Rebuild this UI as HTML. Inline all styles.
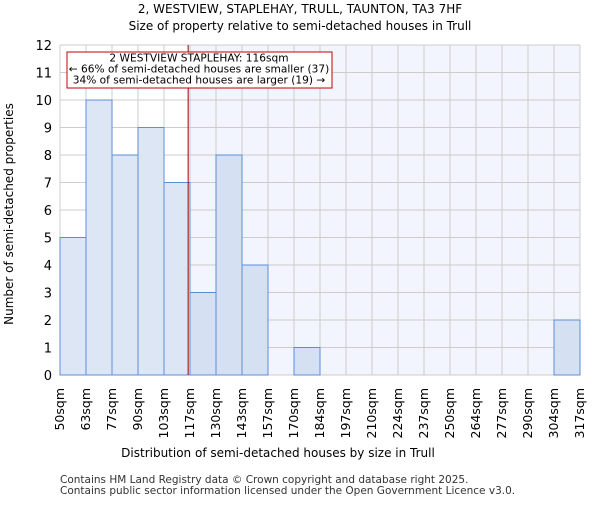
<!DOCTYPE html>
<html><head><meta charset="utf-8"><style>body{margin:0;background:#fff}svg{font-family:"DejaVu Sans","Liberation Sans",sans-serif}</style></head>
<body>
<svg id="c" width="600" height="500" xmlns="http://www.w3.org/2000/svg">
<text x="300" y="13" text-anchor="middle" font-size="12">2, WESTVIEW, STAPLEHAY, TRULL, TAUNTON, TA3 7HF</text>
<text x="300" y="30" text-anchor="middle" font-size="12">Size of property relative to semi-detached houses in Trull</text>
<g id="plot"></g>
<text x="278" y="457" text-anchor="middle" font-size="12">Distribution of semi-detached houses by size in Trull</text>
<text transform="translate(13,214) rotate(-90)" text-anchor="middle" font-size="12">Number of semi-detached properties</text>
<text x="60" y="483" font-size="10.5" fill="#333">Contains HM Land Registry data © Crown copyright and database right 2025.</text>
<text x="60" y="494" font-size="10.5" fill="#333">Contains public sector information licensed under the Open Government Licence v3.0.</text>
</svg>
<script>
const binLabels=["50sqm","63sqm","77sqm","90sqm","103sqm","117sqm","130sqm","143sqm","157sqm","170sqm","184sqm","197sqm","210sqm","224sqm","237sqm","250sqm","264sqm","277sqm","290sqm","304sqm","317sqm"];
const binEdges=[50,63,77,90,103,117,130,143,157,170,184,197,210,224,237,250,264,277,290,304,317];
const counts=[5,10,8,9,7,3,8,4,0,1,0,0,0,0,0,0,0,0,0,2];
const yTicks=[0,1,2,3,4,5,6,7,8,9,10,11,12];
const propertySize=116;
const NS="http://www.w3.org/2000/svg";
const L=60,R=580,T=45,B=375,nb=counts.length,bw=(R-L)/nb;
const yS=v=>B-(v-0)*(B-T)/12;
const xIdx=i=>L+i*bw;
function xVal(v){for(let i=0;i<binEdges.length-1;i++){if(v<=binEdges[i+1])return xIdx(i)+bw*(v-binEdges[i])/(binEdges[i+1]-binEdges[i]);}return R;}
const g=document.getElementById('plot');
function mk(t,a){const e=document.createElementNS(NS,t);for(const k in a)e.setAttribute(k,a[k]);g.appendChild(e);return e;}
const px=xVal(propertySize);
let e=mk('rect',{x:px,y:T,width:R-px,height:B-T,fill:'#f2f5fd'});


for(let i=0;i<=nb;i++){e=mk('line',{x1:xIdx(i),x2:xIdx(i),y1:T,y2:B,stroke:'#ccc','stroke-width':1});

}
yTicks.forEach(v=>{e=mk('line',{x1:L,x2:R,y1:yS(v),y2:yS(v),stroke:'#ccc','stroke-width':1});


e=mk('text',{x:L-8,y:yS(v)+5,'text-anchor':'end','font-size':13});e.textContent=v;

});
counts.forEach((c,i)=>{if(c<=0)return;const x=xIdx(i);
e=mk('rect',{x:x,y:yS(c),width:bw,height:B-yS(c),fill:x<px?'#dde6f4':'#d5e0f3',stroke:'#5b8ed6','stroke-width':1});

});
binLabels.forEach((s,i)=>{const x=xIdx(i)+4;
e=mk('text',{transform:`translate(${x},388) rotate(-90)`,'text-anchor':'end','font-size':12.5});e.textContent=s;

});
e=mk('line',{x1:px,x2:px,y1:T,y2:B,stroke:'#a00000','stroke-width':1});


e=mk('rect',{x:67,y:52,width:265,height:36,fill:'#fff',stroke:'#c00000','stroke-width':1});


["2 WESTVIEW STAPLEHAY: 116sqm","← 66% of semi-detached houses are smaller (37)","34% of semi-detached houses are larger (19) →"].forEach((t,i)=>{
e=mk('text',{x:199,y:61.5+i*11,'text-anchor':'middle','font-size':10.6});e.textContent=t;

});
</script>
</body></html>
